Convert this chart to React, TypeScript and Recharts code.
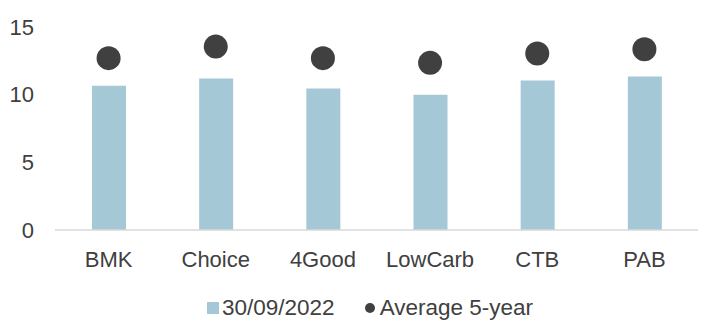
import { ComposedChart, Bar, Line, XAxis, YAxis, Legend } from 'recharts';

const categories = ['BMK', 'Choice', '4Good', 'LowCarb', 'CTB', 'PAB'];
const current = [10.65, 11.2, 10.45, 10.0, 11.05, 11.35];
const average5y = [12.7, 13.55, 12.7, 12.35, 13.05, 13.35];
const yTicks = [0, 5, 10, 15];

const BAR_COLOR = '#a5c8d7';
const DOT_COLOR = '#404040';
const TEXT_COLOR = '#404040';
const FONT = '"Liberation Sans", Arial, sans-serif';

const data = categories.map((name, i) => ({ name, current: current[i], avg: average5y[i] }));

const LegendContent = () => (
  <div
    style={{
      display: 'flex',
      alignItems: 'center',
      paddingLeft: 207,
      height: 30,
      fontFamily: FONT,
      fontSize: 22.5,
      color: TEXT_COLOR,
    }}
  >
    <span style={{ width: 12, height: 12, background: BAR_COLOR, display: 'inline-block', marginRight: 3 }} />
    <span>30/09/2022</span>
    <span
      style={{
        width: 10,
        height: 10,
        borderRadius: '50%',
        background: DOT_COLOR,
        display: 'inline-block',
        marginLeft: 30,
        marginRight: 5,
      }}
    />
    <span>Average 5-year</span>
  </div>
);

export default function App() {
  return (
    <div style={{ position: 'absolute', left: 0, top: 0, background: '#fff' }}>
      <ComposedChart width={706} height={332} data={data} margin={{ top: 27, right: 8, bottom: 42, left: 0 }}>
        <XAxis
          dataKey="name"
          height={30}
          tickSize={0}
          tickMargin={21}
          axisLine={{ stroke: '#d9d9d9', strokeWidth: 1.5 }}
          tick={{ fill: TEXT_COLOR, fontSize: 22, fontFamily: FONT }}
        />
        <YAxis
          width={55}
          domain={[0, 15]}
          ticks={yTicks}
          tickSize={0}
          tickMargin={21}
          axisLine={false}
          tickLine={false}
          tick={{ fill: TEXT_COLOR, fontSize: 22, fontFamily: FONT }}
        />
        <Legend
          verticalAlign="bottom"
          content={LegendContent}
          wrapperStyle={{ bottom: 9, left: 0, width: 706, height: 30 }}
        />
        <Bar dataKey="current" fill={BAR_COLOR} barSize={34} isAnimationActive={false} />
        <Line
          dataKey="avg"
          stroke="none"
          dot={{ r: 12, fill: DOT_COLOR, stroke: 'none' }}
          activeDot={false}
          isAnimationActive={false}
        />
      </ComposedChart>
    </div>
  );
}
